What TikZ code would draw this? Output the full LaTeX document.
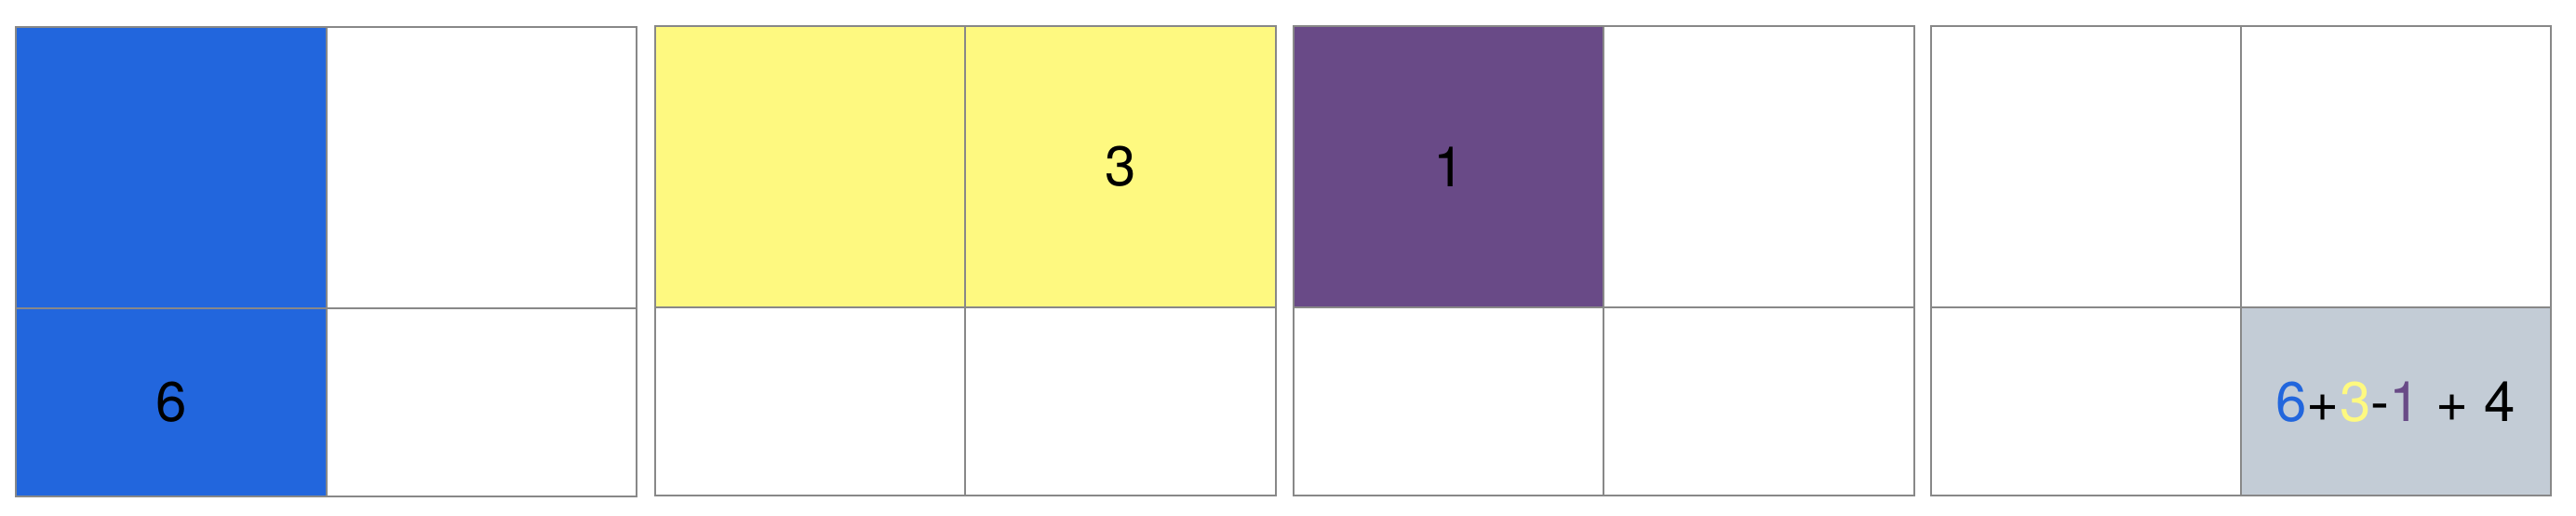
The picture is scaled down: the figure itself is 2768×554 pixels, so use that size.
\documentclass[tikz,border=0pt]{standalone}
\usepackage{fontspec}
\setmainfont{TeX Gyre Heros}
\definecolor{cblue}{RGB}{34,102,221}
\definecolor{cyellow}{RGB}{254,249,128}
\definecolor{cpurple}{RGB}{105,74,135}
\definecolor{cgray}{RGB}{195,204,214}
\definecolor{cline}{RGB}{136,136,136}
\begin{document}
\begin{tikzpicture}[x=0.25pt,y=-0.25pt,
  gridline/.style={draw=cline,line width=0.5pt},
  lbl/.style={font=\fontsize{15}{18}\selectfont,inner sep=0pt}]
\useasboundingbox (0,0) rectangle (2768,554);
% Grid 1
\fill[cblue] (17,29) rectangle (351,533);
\draw[gridline] (17,29) rectangle (684,533);
\draw[gridline] (351,29) -- (351,533);
\draw[gridline] (17,331) -- (684,331);
\node[lbl] (six) at (184,432) {6};
% Grid 2
\fill[cyellow] (704,28) rectangle (1371,330);
\draw[gridline] (704,28) rectangle (1371,532);
\draw[gridline] (1037,28) -- (1037,532);
\draw[gridline] (704,330) -- (1371,330);
\node[lbl] (three) at (1204,179) {3};
% Grid 3
\fill[cpurple] (1390,28) rectangle (1723,330);
\draw[gridline] (1390,28) rectangle (2057,532);
\draw[gridline] (1723,28) -- (1723,532);
\draw[gridline] (1390,330) -- (2057,330);
\node[lbl] (one) at (1557,179) {1};
% Grid 4
\fill[cgray] (2408,330) rectangle (2741,532);
\draw[gridline] (2075,28) rectangle (2741,532);
\draw[gridline] (2408,28) -- (2408,532);
\draw[gridline] (2075,330) -- (2741,330);
\node[lbl] (sum) at (2574,432) {\textcolor{cblue}{6}+\textcolor{cyellow}{3}-\textcolor{cpurple}{1} + 4};
\end{tikzpicture}
\end{document}
